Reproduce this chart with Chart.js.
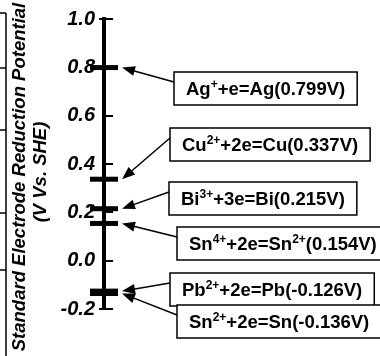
<!DOCTYPE html>
<html lang="en">

<head>
    <meta charset="UTF-8">
    <title>Standard Electrode Reduction Potential</title>
    <script src="https://cdn.jsdelivr.net/npm/chart.js"></script>
    <style>
        html, body { margin: 0; padding: 0; background: #fff; }
        #grafico { width: 380px; height: 356px; }
    </style>
</head>

<body>
    <div id="grafico">
        <canvas id="myChart" width="380" height="356"></canvas>
    </div>
</body>

</html>
<script>
    // dados
    const reacoes = [
        'Ag^{+}+e=Ag(0.799V)',
        'Cu^{2+}+2e=Cu(0.337V)',
        'Bi^{3+}+3e=Bi(0.215V)',
        'Sn^{4+}+2e=Sn^{2+}(0.154V)',
        'Pb^{2+}+2e=Pb(-0.126V)',
        'Sn^{2+}+2e=Sn(-0.136V)'
    ];
    const potenciais = [0.799, 0.337, 0.215, 0.154, -0.126, -0.136];
    const valoresTicks = [-0.2, 0.0, 0.2, 0.4, 0.6, 0.8, 1.0];
    const tituloY = ['Standard Electrode Reduction Potential', '(V Vs. SHE)'];

    // onde fica cada caixa de texto (pixels)
    const caixas = [
        { left: 174, top: 72 },
        { left: 170, top: 128 },
        { left: 169, top: 182 },
        { left: 177, top: 227 },
        { left: 170, top: 273 },
        { left: 177, top: 305 }
    ];

    const fonte = '"Liberation Sans", Arial, Helvetica, sans-serif';

    // quebra 'Cu^{2+}' em pedacos normal / sobrescrito
    function pedacos(txt) {
        return txt.split(/\^\{([^}]*)\}/).map((t, i) => ({ t: t, sup: i % 2 === 1 }));
    }

    const desenhos = {
        id: 'desenhos',
        afterDraw(chart) {
            const ctx = chart.ctx;
            const escalaY = chart.scales.y;
            const eixoX = chart.chartArea.right;
            ctx.save();
            ctx.strokeStyle = '#000';
            ctx.fillStyle = '#000';

            // borda da figura vizinha, do lado esquerdo
            ctx.lineWidth = 1.5;
            ctx.beginPath();
            ctx.moveTo(6, 13);
            ctx.lineTo(6, 356);
            [13, 68, 130, 213, 270].forEach(py => {
                ctx.moveTo(0, py);
                ctx.lineTo(6, py);
            });
            ctx.stroke();

            // titulo do eixo (duas linhas, girado)
            ctx.font = 'italic bold 18.5px ' + fonte;
            ctx.textAlign = 'center';
            ctx.textBaseline = 'middle';
            [[20, 177], [41, 172]].forEach((p, i) => {
                ctx.save();
                ctx.translate(p[0], p[1]);
                ctx.rotate(-Math.PI / 2);
                ctx.fillText(tituloY[i], 0, 0);
                ctx.restore();
            });

            // caixas e setas
            ctx.textAlign = 'left';
            ctx.textBaseline = 'alphabetic';
            reacoes.forEach((txt, i) => {
                const c = caixas[i];
                const partes = pedacos(txt);
                let largura = 0;
                partes.forEach(p => {
                    ctx.font = p.sup ? 'bold 12px ' + fonte : 'bold 18.5px ' + fonte;
                    p.w = ctx.measureText(p.t).width;
                    largura += p.w;
                });
                const w = largura + 24;
                const h = 33;

                ctx.fillStyle = '#fff';
                ctx.fillRect(c.left, c.top, w, h);
                ctx.lineWidth = 1.5;
                ctx.strokeRect(c.left, c.top, w, h);

                ctx.fillStyle = '#000';
                let x = c.left + 12;
                const base = c.top + h / 2 + 6.5;
                partes.forEach(p => {
                    ctx.font = p.sup ? 'bold 12px ' + fonte : 'bold 18.5px ' + fonte;
                    ctx.fillText(p.t, x, p.sup ? base - 7 : base);
                    x += p.w;
                });

                // seta ate a marca no eixo
                const x0 = c.left, y0 = c.top + 10;
                const x1 = eixoX + 18, y1 = escalaY.getPixelForValue(potenciais[i]);
                const ang = Math.atan2(y1 - y0, x1 - x0);
                ctx.lineWidth = 1.5;
                ctx.beginPath();
                ctx.moveTo(x0, y0);
                ctx.lineTo(x1 - 10 * Math.cos(ang), y1 - 10 * Math.sin(ang));
                ctx.stroke();
                ctx.beginPath();
                ctx.moveTo(x1, y1);
                ctx.lineTo(x1 - 13 * Math.cos(ang) + 5 * Math.sin(ang), y1 - 13 * Math.sin(ang) - 5 * Math.cos(ang));
                ctx.lineTo(x1 - 13 * Math.cos(ang) - 5 * Math.sin(ang), y1 - 13 * Math.sin(ang) + 5 * Math.cos(ang));
                ctx.closePath();
                ctx.fill();
            });
            ctx.restore();
        }
    };

    const ctx = document.getElementById('myChart').getContext('2d');
    const ultimo = valoresTicks.length - 1;

    const myChart = new Chart(ctx, {
        type: 'scatter',
        data: {
            datasets: [{
                data: potenciais.map(v => ({ x: 0, y: v })),
                pointStyle: 'line',
                pointRadius: 14,
                pointHoverRadius: 14,
                pointBorderWidth: 5,
                pointBorderColor: '#000',
                pointBackgroundColor: '#000',
                clip: false
            }]
        },
        options: {
            responsive: false,
            animation: false,
            devicePixelRatio: 1,
            events: [],
            layout: {
                padding: { left: 0, top: 15, right: 262, bottom: 47 }
            },
            plugins: {
                legend: { display: false },
                tooltip: { enabled: false }
            },
            scales: {
                x: { type: 'linear', display: false, min: -1, max: 1 },
                y: {
                    position: 'left',
                    min: valoresTicks[0],
                    max: valoresTicks[ultimo],
                    afterBuildTicks: s => { s.ticks = valoresTicks.map(v => ({ value: v })); },
                    afterFit: s => { s.width = 104; },
                    border: { display: false },
                    grid: {
                        drawOnChartArea: false,
                        tickLength: 5,
                        lineWidth: 2,
                        color: c => (c.index === 0 || c.index === ultimo) ? '#000' : 'rgba(0,0,0,0)'
                    },
                    ticks: {
                        color: '#000',
                        padding: 4,
                        font: { family: fonte, size: 20, weight: 'bold', style: 'italic' },
                        callback: v => v.toFixed(1)
                    }
                },
                y2: {
                    position: 'right',
                    min: valoresTicks[0],
                    max: valoresTicks[ultimo],
                    afterBuildTicks: s => { s.ticks = valoresTicks.map(v => ({ value: v })); },
                    afterFit: s => { s.width = 14; },
                    border: { display: true, color: '#000', width: 4 },
                    grid: { drawOnChartArea: false, tickLength: 9, lineWidth: 2, color: '#000' },
                    ticks: { display: false }
                }
            }
        },
        plugins: [desenhos]
    });
</script>
